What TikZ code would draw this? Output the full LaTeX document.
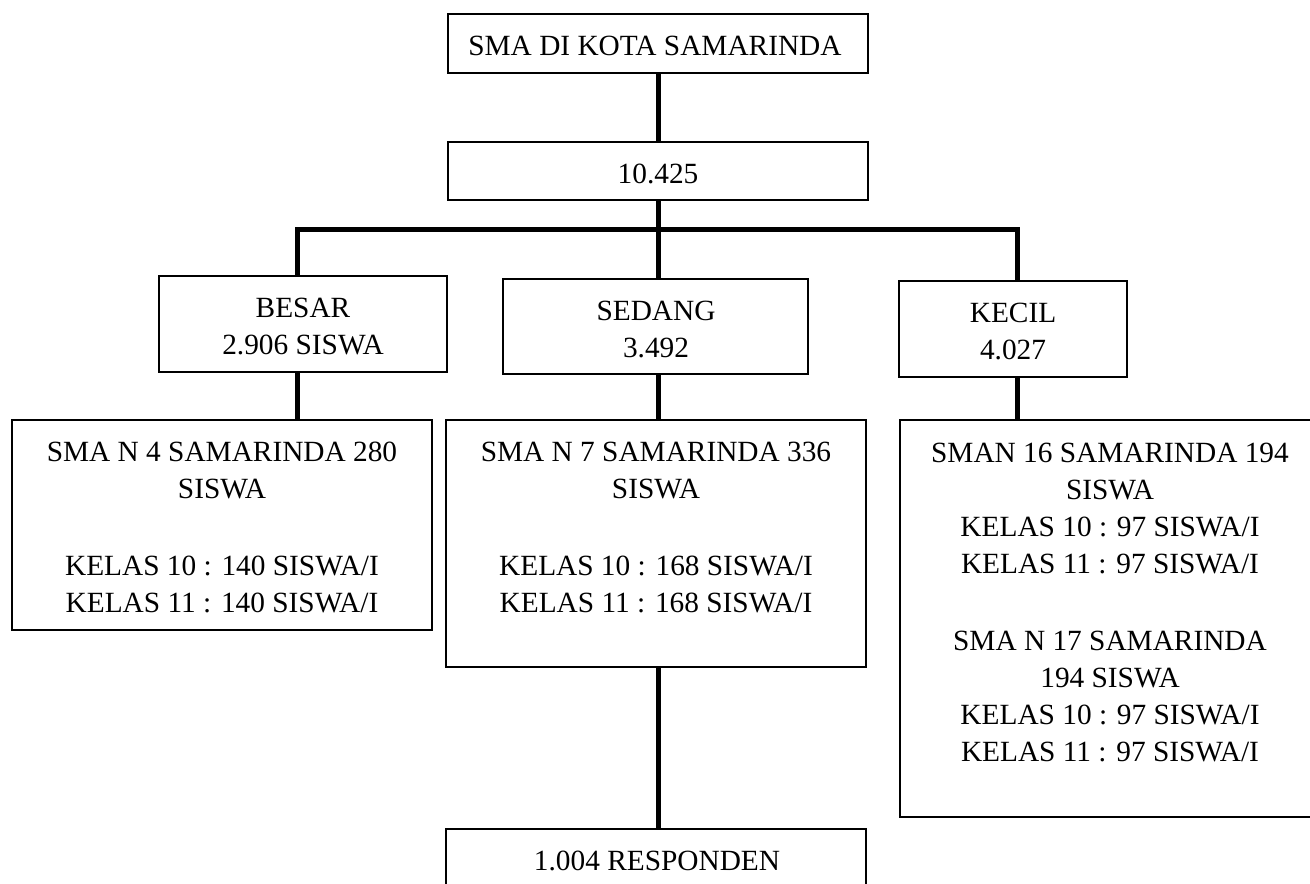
\documentclass[tikz,border=0pt]{standalone}
\usepackage{fontspec}
\setmainfont{Liberation Serif}
\begin{document}
\begin{tikzpicture}[x=0.75pt,y=-0.75pt,
  box/.style={draw=black,line width=1.3pt,rectangle,inner sep=0pt,fill=none},
  conn/.style={draw=black,line width=3.75pt,line join=miter,line cap=butt},
  txt/.style={anchor=base,align=center,inner sep=0pt,font=\fontsize{22}{27.75}\selectfont}]
\useasboundingbox (0,0) rectangle (1310,883);
\fill[white] (0,0) rectangle (1310,883);
\clip (0,0) rectangle (1310,883);
% boxes
\node[box,minimum width=315pt,minimum height=44.25pt] (top) at (658,43.5) {};
\node[box,minimum width=315pt,minimum height=43.5pt] (tot) at (658,171) {};
\node[box,minimum width=216pt,minimum height=72pt] (besar) at (303,324) {};
\node[box,minimum width=228.75pt,minimum height=71.25pt] (sedang) at (655.5,326.5) {};
\node[box,minimum width=171pt,minimum height=72pt] (kecil) at (1013,329) {};
\node[box,minimum width=315pt,minimum height=157.5pt] (sma4) at (222,525) {};
\node[box,minimum width=315pt,minimum height=185.25pt] (sma7) at (656,543.5) {};
\node[box,minimum width=315pt,minimum height=297.75pt] (sma16) at (1110,618.5) {};
\node[box,minimum width=315pt,minimum height=49.5pt] (resp) at (656,862) {};
% texts (anchor base = baseline of the last line)
\node[txt] (ttop) at (655,55) {SMA DI KOTA SAMARINDA};
\node[txt] (ttot) at (658,183) {10.425};
\node[txt] (tbesar) at (303,354) {BESAR\\2.906 SISWA};
\node[txt] (tsedang) at (656,357) {SEDANG\\3.492};
\node[txt] (tkecil) at (1013,359) {KECIL\\4.027};
\node[txt] (tsma4) at (222,612) {SMA N 4 SAMARINDA 280\\SISWA\\[30pt]KELAS 10 : 140 SISWA/I\\KELAS 11 : 140 SISWA/I};
\node[txt] (tsma7) at (656,612) {SMA N 7 SAMARINDA 336\\SISWA\\[30pt]KELAS 10 : 168 SISWA/I\\KELAS 11 : 168 SISWA/I};
\node[txt] (tsma16) at (1110,761) {SMAN 16 SAMARINDA 194\\SISWA\\KELAS 10 : 97 SISWA/I\\KELAS 11 : 97 SISWA/I\\[30pt]SMA N 17 SAMARINDA\\194 SISWA\\KELAS 10 : 97 SISWA/I\\KELAS 11 : 97 SISWA/I};
\node[txt] (tresp) at (657,870) {1.004 RESPONDEN};
% connector coordinates
\coordinate (bl) at (297,229);
\coordinate (bm) at (658,229);
\coordinate (br) at (1017,229);
% connectors
\draw[conn] (top.south) -- (tot.north);
\draw[conn] (bl |- besar.north) -- (bl) -- (br) -- (br |- kecil.north);
\draw[conn] (tot.south) -- (bm |- sedang.north);
\draw[conn] (bl |- besar.south) -- (bl |- sma4.north);
\draw[conn] (bm |- sedang.south) -- (bm |- sma7.north);
\draw[conn] (br |- kecil.south) -- (br |- sma16.north);
\draw[conn] (bm |- sma7.south) -- (bm |- resp.north);
\end{tikzpicture}
\end{document}
